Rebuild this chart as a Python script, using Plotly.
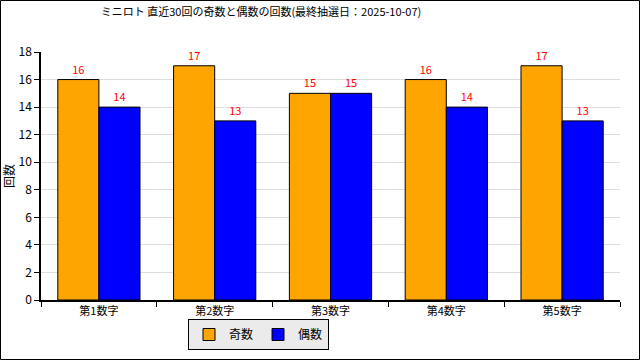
import plotly.graph_objects as go

categories = ["第1数字", "第2数字", "第3数字", "第4数字", "第5数字"]
odd_counts = [16, 17, 15, 16, 17]
even_counts = [14, 13, 15, 14, 13]
series_names = ["奇数", "偶数"]
title_text = "ミニロト 直近30回の奇数と偶数の回数(最終抽選日：2025-10-07)"

W, H = 640, 360
L, R, T, B = 41, 20, 52, 60
pw, ph = W - L - R, H - T - B

def px_x(x):
    return (x - L) / pw

def px_y(y):
    return (H - B - y) / ph

font = "Noto Sans CJK JP"

fig = go.Figure()
fig.add_bar(x=categories, y=odd_counts, name=series_names[0],
            marker=dict(color="#FFA500", line=dict(color="black", width=1)),
            text=odd_counts, textposition="outside",
            textfont=dict(color="red", size=11, family=font), cliponaxis=False)
fig.add_bar(x=categories, y=even_counts, name=series_names[1],
            marker=dict(color="#0000FF", line=dict(color="black", width=1)),
            text=even_counts, textposition="outside",
            textfont=dict(color="red", size=11, family=font), cliponaxis=False)

fig.update_layout(
    width=W, height=H,
    margin=dict(l=L, r=R, t=T, b=B, autoexpand=False),
    paper_bgcolor="white", plot_bgcolor="white",
    font=dict(family=font, size=11, color="black"),
    title=dict(text=title_text, x=261 / W, xanchor="center", y=1 - 12 / H, yanchor="middle",
               font=dict(size=11, family=font, color="black")),
    barmode="group", bargap=0.29, bargroupgap=0,
    showlegend=True,
    legend=dict(orientation="h", x=px_x(188), y=px_y(319), xanchor="left", yanchor="top",
                bgcolor="#EBEBEB", bordercolor="black", borderwidth=1,
                font=dict(size=12, family=font), itemwidth=30, tracegroupgap=0),
    xaxis=dict(showline=True, linecolor="black", linewidth=1.5, ticks="outside",
               tickson="boundaries", ticklen=5, tickcolor="black", automargin=False,
               tickfont=dict(size=11), showgrid=False),
    yaxis=dict(range=[0, 18], dtick=2, showline=True, linecolor="black", linewidth=1.5,
               ticks="outside", ticklen=5, tickcolor="black", gridcolor="#DDDDDD",
               tickfont=dict(size=12), zeroline=False, automargin=False,
               title=dict(text="回数", font=dict(size=12), standoff=4)),
    shapes=[
        dict(type="rect", xref="paper", yref="paper",
             x0=px_x(191), x1=px_x(328), y0=px_y(345), y1=px_y(322),
             fillcolor="#888888", line=dict(width=0), layer="below"),
        dict(type="rect", xref="paper", yref="paper",
             x0=px_x(0.5), x1=px_x(W - 0.5), y0=px_y(H - 0.5), y1=px_y(0.5),
             line=dict(color="black", width=1), fillcolor="rgba(0,0,0,0)"),
    ],
)

fig.write_html("out.html", config={"displayModeBar": False},
               post_script="document.body.style.margin='0';document.body.style.padding='0';")
